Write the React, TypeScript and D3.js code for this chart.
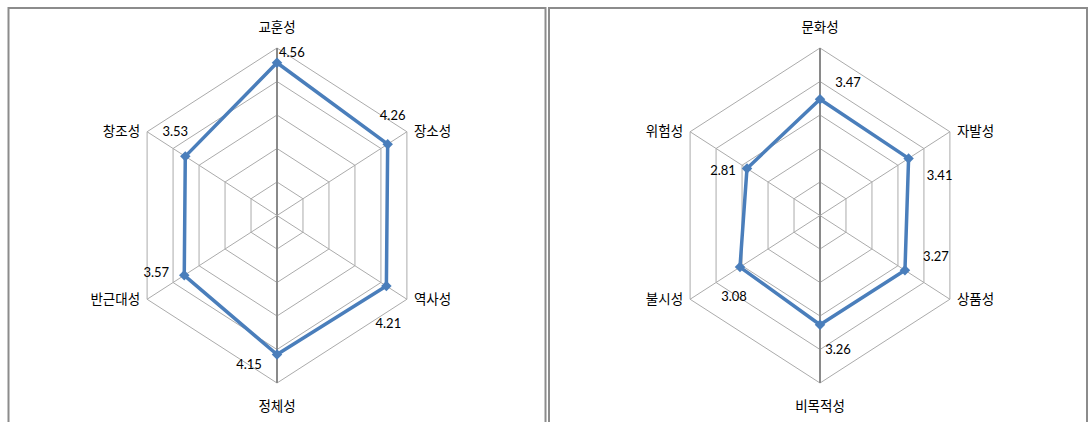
import React, { useEffect, useRef } from 'react';
import * as d3 from 'd3';

// left chart
const leftCats = ['교훈성', '장소성', '역사성', '정체성', '반근대성', '창조성'];
const leftVals = [4.56, 4.26, 4.21, 4.15, 3.57, 3.53];
// right chart
const rightCats = ['문화성', '자발성', '상품성', '비목적성', '불시성', '위험성'];
const rightVals = [3.47, 3.41, 3.27, 3.26, 3.08, 2.81];
const ringTicks = [1, 2, 3, 4, 5];

// label offsets from the point (Excel's placement), per axis
const leftLabelOff: [number, number, string][] = [
  [2, -10, 'start'], [5, -29, 'middle'], [2, 37, 'middle'],
  [-28, 10, 'middle'], [-28, -3, 'middle'], [-10, -25, 'middle'],
];
const rightLabelOff: [number, number, string][] = [
  [28, -17, 'middle'], [31, 17, 'middle'], [31, -14, 'middle'],
  [18, 25, 'middle'], [-6, 29, 'middle'], [-24, 2, 'middle'],
];

const W = 1090;
const H = 422;
const NUM_FONT = 'Lato, "Open Sans", sans-serif';
const KR_FONT = '"Noto Sans CJK KR", "Noto Sans", sans-serif';

function drawRadar(
  g: d3.Selection<SVGGElement, unknown, null, undefined>,
  cats: string[],
  vals: number[],
  offs: [number, number, string][]
) {
  const rx = d3.scaleLinear().domain([0, 5]).range([0, 150]);
  const ry = d3.scaleLinear().domain([0, 5]).range([0, 167.5]);
  const n = cats.length;
  const ang = d3.scaleLinear().domain([0, n]).range([0, 2 * Math.PI]);
  const pt = (i: number, v: number): [number, number] => [
    rx(v) * Math.sin(ang(i)),
    -ry(v) * Math.cos(ang(i)),
  ];
  const closed = d3.line().curve(d3.curveLinearClosed);

  // rings
  ringTicks.forEach(t => {
    g.append('path')
      .attr('d', closed(cats.map((_, i) => pt(i, t))))
      .attr('fill', 'none')
      .attr('stroke', '#ababab')
      .attr('stroke-width', 1);
  });

  // spokes
  cats.forEach((_, i) => {
    const [x, y] = pt(i, 5);
    g.append('line')
      .attr('x1', 0).attr('y1', 0).attr('x2', x).attr('y2', y)
      .attr('stroke', i === 0 || i === 3 ? '#8a8a8a' : '#ababab')
      .attr('stroke-width', i === 0 || i === 3 ? 2 : 1);
  });

  // series
  g.append('path')
    .attr('d', closed(vals.map((v, i) => pt(i, v))))
    .attr('fill', 'none')
    .attr('stroke', '#4a7ebb')
    .attr('stroke-width', 3.5)
    .attr('stroke-linejoin', 'round');

  g.selectAll('.mk')
    .data(vals)
    .enter()
    .append('path')
    .attr('class', 'mk')
    .attr('d', d3.symbol(d3.symbolSquare, 55)())
    .attr('transform', (v, i) => `translate(${pt(i, v)[0]},${pt(i, v)[1]}) rotate(45)`)
    .attr('fill', '#4a7ebb');

  // value labels
  vals.forEach((v, i) => {
    const [x, y] = pt(i, v);
    g.append('text')
      .attr('x', x + offs[i][0])
      .attr('y', y + offs[i][1])
      .attr('dy', '0.35em')
      .attr('text-anchor', offs[i][2])
      .style('font-family', NUM_FONT)
      .style('font-size', '13px')
      .style('fill', '#000')
      .text(v.toFixed(2));
  });

  // category labels
  cats.forEach((c, i) => {
    const [x, y] = pt(i, 5);
    let tx = x, ty = y, anchor = 'middle';
    if (i === 0) ty = y - 21;
    else if (i === n / 2) ty = y + 23;
    else if (x > 0) { tx = x + 7; anchor = 'start'; }
    else { tx = x - 7; anchor = 'end'; }
    g.append('text')
      .attr('x', tx)
      .attr('y', ty)
      .attr('dy', '0.35em')
      .attr('text-anchor', anchor)
      .style('font-family', KR_FONT)
      .style('font-size', '13.5px')
      .style('fill', '#000')
      .text(c);
  });
}

export default function App() {
  const ref = useRef<SVGSVGElement>(null);

  useEffect(() => {
    if (!ref.current) return;
    const svg = d3.select(ref.current);
    svg.selectAll('*').remove();

    svg.append('rect').attr('width', W).attr('height', H).attr('fill', '#fff');

    // panel frames
    svg.append('rect')
      .attr('x', 8.5).attr('y', 8).attr('width', 537).attr('height', 430)
      .attr('fill', 'none').attr('stroke', '#8c8c8c').attr('stroke-width', 2);
    svg.append('rect')
      .attr('x', 549).attr('y', 8).attr('width', 538).attr('height', 430)
      .attr('fill', 'none').attr('stroke', '#8c8c8c').attr('stroke-width', 2);

    const gl = svg.append('g').attr('transform', 'translate(277,215.5)');
    drawRadar(gl, leftCats, leftVals, leftLabelOff);

    const gr = svg.append('g').attr('transform', 'translate(820,215.5)');
    drawRadar(gr, rightCats, rightVals, rightLabelOff);
  }, []);

  return (
    <div style={{ position: 'absolute', left: 0, top: 0 }}>
      <svg ref={ref} width={W} height={H} style={{ display: 'block' }} />
    </div>
  );
}
